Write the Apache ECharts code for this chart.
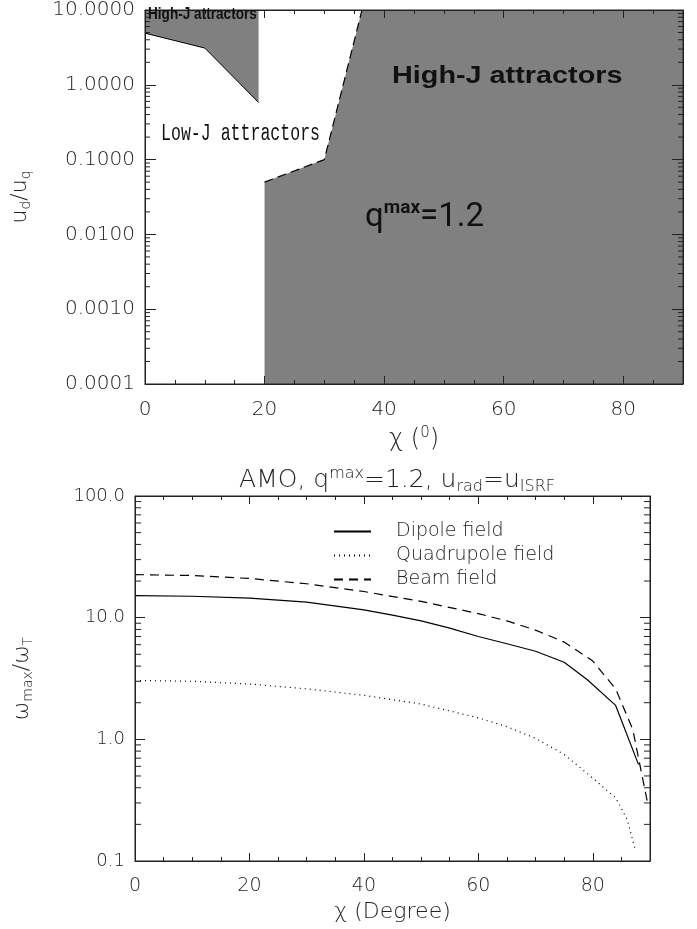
<!DOCTYPE html>
<html><head><meta charset="utf-8">
<script src="https://cdn.jsdelivr.net/npm/echarts@6/dist/echarts.min.js"></script>
<style>html,body{margin:0;padding:0;background:#fff}#chart{width:697px;height:929px}</style>
</head><body><div id="chart"></div>
<script>
// ---- upper panel: attractor regions in the (chi, u_d/u_q) plane ----
// boundary of the small high-J region (filled above the line)
const upperEdgeChi = [0, 10, 19];
const upperEdgeRatio = [4.9, 3.1, 0.58];
// boundary of the large high-J region (filled below / right of the line)
const lowerEdgeChi = [20, 30, 36.3];
const lowerEdgeRatio = [0.05, 0.1, 10];

// ---- lower panel: omega_max / omega_T versus chi ----
const dipoleChi = [0, 10, 20, 30, 40, 45, 50, 55, 60, 65, 70, 75, 79, 84, 88];
const dipoleOmega = [15.2, 15.0, 14.5, 13.4, 11.6, 10.5, 9.4, 8.2, 7.0, 6.1, 5.3, 4.3, 3.1, 1.9, 0.62];
const quadChi = [0, 10, 20, 30, 40, 50, 60, 65, 70, 75, 80, 84, 86, 87.5];
const quadOmega = [3.05, 3.0, 2.85, 2.6, 2.3, 1.95, 1.5, 1.27, 1.02, 0.75, 0.48, 0.33, 0.22, 0.12];
const beamChi = [0, 10, 20, 30, 40, 50, 60, 65, 70, 75, 80, 84, 87, 89.7];
const beamOmega = [22.6, 22.2, 21.0, 19.0, 16.4, 13.6, 10.8, 9.4, 7.9, 6.3, 4.4, 2.6, 1.2, 0.28];

const chiMin = 0, chiMax = 90;
const ratioMin = 0.0001, ratioMax = 10;
const omegaMin = 0.1, omegaMax = 100;

const FONT = 'DejaVu Sans';
const WEIGHT = 200;
const INK = '#222';
const FILL = '#808080';

function pairs(xs, ys) { return xs.map((x, i) => [x, ys[i]]); }
// 2..9 times each power of ten between lo and hi
function logMinorValues(lo, hi) {
  const out = [];
  for (let d = lo; d < hi * 0.999; d *= 10) {
    for (let k = 2; k <= 9; k++) out.push(+(k * d).toPrecision(3));
  }
  return out;
}

function xAxisPair(gridIndex, labelSize, name) {
  const base = {
    gridIndex, type: 'value', min: chiMin, max: chiMax, interval: 20, z: 10,
    axisLine: { show: true, onZero: false, lineStyle: { color: INK, width: 1 } },
    axisTick: { show: true, inside: true, length: 8, lineStyle: { color: INK } },
    minorTick: { show: true, splitNumber: 4, length: 4, lineStyle: { color: INK } },
    splitLine: { show: false }
  };
  return [
    Object.assign({}, base, {
      position: 'bottom',
      axisLabel: { show: true, showMaxLabel: false, margin: 16, fontFamily: FONT, fontWeight: WEIGHT, fontSize: labelSize, color: INK },
      name: name.text, nameLocation: 'middle', nameGap: name.gap,
      nameTextStyle: name.style
    }),
    Object.assign({}, base, { position: 'top', axisLabel: { show: false } })
  ];
}

function yAxisPair(gridIndex, lo, hi, digits, labelSize, name, majorLen) {
  const base = {
    gridIndex, type: 'log', logBase: 10, min: lo, max: hi, z: 10,
    axisLine: { show: true, onZero: false, lineStyle: { color: INK, width: 1 } },
    axisTick: { show: true, inside: true, length: majorLen, lineStyle: { color: INK } },
    splitLine: { show: false }
  };
  return [
    Object.assign({}, base, {
      position: 'left',
      axisLabel: { margin: 10, fontFamily: FONT, fontWeight: WEIGHT, fontSize: labelSize, color: INK,
        formatter: v => Number(v).toFixed(digits) },
      name: name.text, nameLocation: 'middle', nameGap: name.gap, nameRotate: 90,
      nameTextStyle: name.style
    }),
    Object.assign({}, base, { position: 'right', axisLabel: { show: false } })
  ];
}

// short inward ticks at 2..9 x 10^n on both vertical edges of a log panel
function minorTickSeries(xIdx, yIdx, lo, hi, len) {
  return {
    type: 'custom', xAxisIndex: xIdx, yAxisIndex: yIdx, z: 12, silent: true, clip: false,
    data: logMinorValues(lo, hi).map(v => [chiMin, v]),
    renderItem: function (params, api) {
      const v = api.value(1);
      const pl = api.coord([chiMin, v]);
      const pr = api.coord([chiMax, v]);
      const st = { stroke: INK, lineWidth: 1 };
      return {
        type: 'group',
        children: [
          { type: 'line', shape: { x1: pl[0], y1: pl[1], x2: pl[0] + len, y2: pl[1] }, style: st },
          { type: 'line', shape: { x1: pr[0], y1: pr[1], x2: pr[0] - len, y2: pr[1] }, style: st }
        ]
      };
    }
  };
}

const nameStyle = (size, small) => ({
  fontFamily: FONT, fontWeight: WEIGHT, fontSize: size, color: INK,
  rich: {
    sup: { fontFamily: FONT, fontWeight: WEIGHT, fontSize: small, color: INK, verticalAlign: 'top', padding: [0, 0, Math.round(small * 0.8), 0] },
    sub: { fontFamily: FONT, fontWeight: WEIGHT, fontSize: small, color: INK, verticalAlign: 'bottom', padding: [Math.round(small * 0.8), 0, 0, 0] }
  }
});

const xAxes = [
  ...xAxisPair(0, 20, { text: 'χ ({sup|0})', gap: 42, style: nameStyle(24, 15) }),
  ...xAxisPair(1, 19, { text: 'χ (Degree)', gap: 40, style: nameStyle(22, 14) })
];
const yAxes = [
  ...yAxisPair(0, ratioMin, ratioMax, 4, 20, { text: 'u{sub|d}/u{sub|q}', gap: 112, style: nameStyle(22, 14) }, 11),
  ...yAxisPair(1, omegaMin, omegaMax, 1, 18, { text: 'ω{sub|max}/ω{sub|T}', gap: 100, style: nameStyle(22, 14) }, 10)
];

const option = {
  backgroundColor: '#fff',
  animation: false,
  grid: [
    { left: 145, right: 14, top: 5, bottom: 545, show: true, borderColor: INK, borderWidth: 1, backgroundColor: 'transparent', z: 10 },
    { left: 135, right: 47, top: 496, bottom: 68, show: true, borderColor: INK, borderWidth: 1, backgroundColor: 'transparent', z: 10 }
  ],
  title: {
    text: 'AMO, q{sup|max}=1.2, u{sub|rad}=u{sub|ISRF}',
    left: 392, top: 461, textAlign: 'center',
    textStyle: nameStyle(25, 16)
  },
  xAxis: xAxes,
  yAxis: yAxes,
  legend: {
    show: true, orient: 'vertical', left: 328, top: 517, itemWidth: 37, itemHeight: 14, itemGap: 5,
    itemStyle: { color: 'transparent', borderColor: 'transparent', borderWidth: 0, opacity: 0 },
    textStyle: { fontFamily: FONT, fontWeight: WEIGHT, fontSize: 19, color: INK, padding: [0, 0, 0, 20] },
    data: ['Dipole field', 'Quadrupole field', 'Beam field']
  },
  graphic: [
    { type: 'text', left: 148, top: 6, z: 20, scaleX: 0.8,
      style: { text: 'High-J attractors', fontFamily: 'Liberation Sans', fontWeight: 'bold', fontSize: 17, fill: '#111' } },
    { type: 'text', left: 161, top: 122, z: 20, scaleX: 0.72,
      style: { text: 'Low-J attractors', fontFamily: 'Liberation Mono', fontSize: 23, fill: '#111' } },
    { type: 'text', left: 392, top: 64, z: 20, scaleX: 1.2,
      style: { text: 'High-J attractors', fontFamily: 'Liberation Sans', fontWeight: 'bold', fontSize: 24, fill: '#111' } },
    { type: 'text', left: 365, top: 199, z: 20,
      style: { text: 'q{s|max}=1.2', fontFamily: 'Roboto', fontSize: 33, fill: '#111',
        rich: { s: { fontFamily: 'Roboto', fontWeight: 'bold', fontSize: 19, fill: '#111', verticalAlign: 'top', padding: [0, 0, 18, 0] } } } }
  ],
  series: [
    { name: 'high-J small', type: 'line', xAxisIndex: 0, yAxisIndex: 0, symbol: 'none', z: 2,
      data: pairs(upperEdgeChi, upperEdgeRatio),
      lineStyle: { color: '#000', width: 1 },
      areaStyle: { origin: 'end', color: FILL, opacity: 1 } },
    { name: 'high-J large', type: 'line', xAxisIndex: 0, yAxisIndex: 0, symbol: 'none', z: 2,
      data: pairs(lowerEdgeChi, lowerEdgeRatio).concat([[chiMax, ratioMax]]),
      lineStyle: { width: 0 },
      areaStyle: { origin: 'start', color: FILL, opacity: 1 } },
    { name: 'high-J edge', type: 'line', xAxisIndex: 0, yAxisIndex: 0, symbol: 'none', z: 3,
      data: pairs(lowerEdgeChi, lowerEdgeRatio),
      lineStyle: { color: '#000', width: 1.2, type: [9, 5] } },
    { name: 'Dipole field', type: 'line', xAxisIndex: 2, yAxisIndex: 2, symbol: 'none',
      data: pairs(dipoleChi, dipoleOmega),
      itemStyle: { color: '#000' }, lineStyle: { color: '#000', width: 1.2, type: 'solid' } },
    { name: 'Quadrupole field', type: 'line', xAxisIndex: 2, yAxisIndex: 2, symbol: 'none',
      data: pairs(quadChi, quadOmega),
      itemStyle: { color: '#000' }, lineStyle: { color: '#000', width: 1.2, type: [1, 4] } },
    { name: 'Beam field', type: 'line', xAxisIndex: 2, yAxisIndex: 2, symbol: 'none',
      data: pairs(beamChi, beamOmega),
      itemStyle: { color: '#000' }, lineStyle: { color: '#000', width: 1.2, type: [9, 6] } },
    minorTickSeries(0, 0, ratioMin, ratioMax, 5),
    minorTickSeries(2, 2, omegaMin, omegaMax, 6)
  ]
};

const chart = echarts.init(document.getElementById('chart'), null, { renderer: 'canvas' });
chart.setOption(option);
</script>
</body></html>
